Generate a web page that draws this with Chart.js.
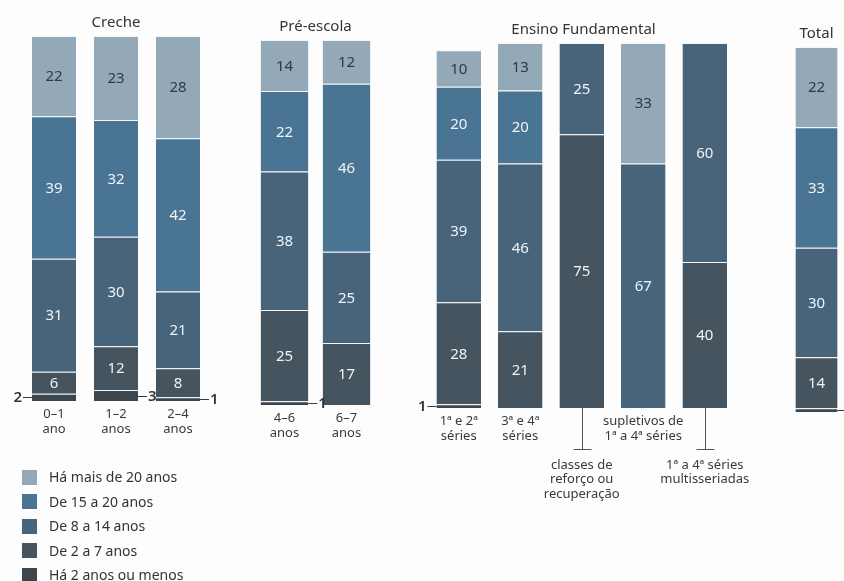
<!DOCTYPE html>
<html lang="pt-BR">
<head>
<meta charset="utf-8">
<title>Tempo de trabalho dos professores por etapa de ensino</title>
<script src="https://cdn.jsdelivr.net/npm/chart.js@4/dist/chart.umd.min.js"></script>
<style>
  html, body { margin: 0; padding: 0; }
  body {
    width: 844px; height: 581px; overflow: hidden; position: relative;
    background: #fdfdfd; font-family: "Noto Sans", sans-serif;
  }
  .panel { position: absolute; }
  .panel canvas { display: block; }
  #legend { position: absolute; left: 22px; top: 465px; z-index: 2; }
  #legend .item { display: flex; align-items: center; height: 24.5px; }
  #legend .box { width: 15px; height: 15px; margin-right: 12px; flex: none; }
  #legend .text { font-size: 14px; color: #333; line-height: 16px; white-space: nowrap; }
</style>
</head>
<body>
<div id="panels"></div>
<div id="legend"></div>
<script>
// ---- data -----------------------------------------------------------------
const panelTitles = ['Creche', 'Pré-escola', 'Ensino Fundamental', 'Total'];

const categories = [
  ['0–1', 'ano'], ['1–2', 'anos'], ['2–4', 'anos'],
  ['4–6', 'anos'], ['6–7', 'anos'],
  ['1ª e 2ª', 'séries'], ['3ª e 4ª', 'séries'],
  ['classes de', 'reforço ou', 'recuperação'],
  ['supletivos de', '1ª a 4ª séries'],
  ['1ª a 4ª séries', 'multisseriadas'],
  ['']
];
const categoryPanel = [0, 0, 0, 1, 1, 2, 2, 2, 2, 2, 3];

const seriesNames = ['Há mais de 20 anos', 'De 15 a 20 anos', 'De 8 a 14 anos', 'De 2 a 7 anos', 'Há 2 anos ou menos'];

// percentages per category (null = no segment)
const haMaisDe20Anos  = [22, 23, 28, 14, 12, 10, 13, null, 33, null, 22];
const de15a20Anos     = [39, 32, 42, 22, 46, 20, 20, null, null, null, 33];
const de8a14Anos      = [31, 30, 21, 38, 25, 39, 46, 25, 67, 60, 30];
const de2a7Anos       = [6, 12, 8, 25, 17, 28, 21, 75, null, 40, 14];
const ha2AnosOuMenos  = [2, 3, 1, 1, null, 1, null, null, null, null, 1];

// ---- styling / layout -----------------------------------------------------
const seriesColors = ['#93a9b7', '#4a7494', '#48647a', '#45545f', '#3c464c'];
const seriesTextColors = ['#2f3a42', '#eef3f6', '#eef3f6', '#eef3f6', '#eef3f6'];

const panelLayout = [
  { left: 0,   top: 0,  width: 232, padL: 23,   padR: 23,   barPct: 0.71 },
  { left: 240, top: 4,  width: 164, padL: 13.5, padR: 26.5, barPct: 0.77 },
  { left: 410, top: 7,  width: 347, padL: 18,   padR: 18,   barPct: 0.725 },
  { left: 760, top: 11, width: 113, padL: 25.5, padR: 25.5, barPct: 0.68 }
];
const PANEL_HEIGHT = 560;
const AXIS_HEIGHT = 159;

// categories whose label hangs below a bracket, and small values labelled to the left
const bracketed = new Set(['classes de reforço ou recuperação', '1ª a 4ª séries multisseriadas']);
const leaderLeft = new Set(['0–1 ano', '1ª e 2ª séries']);
const keyOf = (lbl) => (Array.isArray(lbl) ? lbl.join(' ') : String(lbl));

Chart.defaults.font.family = '"Noto Sans", sans-serif';
Chart.defaults.color = '#333';

// value labels inside segments, with short leader lines for tiny segments
const segmentLabels = {
  id: 'segmentLabels',
  afterDatasetsDraw(chart) {
    const ctx = chart.ctx;
    ctx.save();
    chart.data.datasets.forEach((ds, di) => {
      const meta = chart.getDatasetMeta(di);
      meta.data.forEach((bar, i) => {
        const v = ds.data[i];
        if (v == null) return;
        const p = bar.getProps(['x', 'y', 'base', 'width'], true);
        const midY = (p.y + p.base) / 2;
        if (v > 3) {
          ctx.font = '15px "Noto Sans"';
          ctx.fillStyle = ds.valueColor;
          ctx.textAlign = 'center';
          ctx.textBaseline = 'middle';
          ctx.fillText(String(v), p.x, midY + 1);
        } else {
          const left = leaderLeft.has(keyOf(chart.data.labels[i]));
          const edge = left ? p.x - p.width / 2 : p.x + p.width / 2;
          const end = left ? edge - 9 : edge + 9;
          const ly = Math.round(midY) + 0.5;
          ctx.strokeStyle = '#3a3a3a';
          ctx.lineWidth = 1;
          ctx.beginPath();
          ctx.moveTo(edge, ly);
          ctx.lineTo(end, ly);
          ctx.stroke();
          ctx.font = '600 15px "Noto Sans"';
          ctx.fillStyle = '#333';
          ctx.textAlign = left ? 'right' : 'left';
          ctx.textBaseline = 'middle';
          ctx.fillText(String(v), left ? end - 1 : end + 1, ly);
        }
      });
    });
    ctx.restore();
  }
};

// T-shaped connector from a bar down to its hanging label
const bracketLines = {
  id: 'bracketLines',
  afterDraw(chart) {
    const ctx = chart.ctx;
    const xs = chart.scales.x;
    const bottom = chart.chartArea.bottom;
    ctx.save();
    ctx.strokeStyle = '#555';
    ctx.lineWidth = 1;
    chart.data.labels.forEach((lbl, i) => {
      if (!bracketed.has(keyOf(lbl))) return;
      const x = Math.round(xs.getPixelForValue(i)) + 0.5;
      const yEnd = Math.round(bottom + 41) + 0.5;
      ctx.beginPath();
      ctx.moveTo(x, bottom);
      ctx.lineTo(x, yEnd);
      ctx.moveTo(x - 9, yEnd);
      ctx.lineTo(x + 9, yEnd);
      ctx.stroke();
    });
    ctx.restore();
  }
};

// ---- build panels ---------------------------------------------------------
const seriesValues = [haMaisDe20Anos, de15a20Anos, de8a14Anos, de2a7Anos, ha2AnosOuMenos];
const panelsEl = document.getElementById('panels');

panelTitles.forEach((title, pi) => {
  const lay = panelLayout[pi];
  const idx = categoryPanel.map((p, i) => (p === pi ? i : -1)).filter(i => i >= 0);

  const wrap = document.createElement('div');
  wrap.className = 'panel';
  wrap.style.left = lay.left + 'px';
  wrap.style.top = lay.top + 'px';
  const canvas = document.createElement('canvas');
  canvas.width = lay.width;
  canvas.height = PANEL_HEIGHT;
  wrap.appendChild(canvas);
  panelsEl.appendChild(wrap);

  // stacking order: bottom segment first
  const datasets = [4, 3, 2, 1, 0].map(si => ({
    label: seriesNames[si],
    data: idx.map(i => seriesValues[si][i]),
    backgroundColor: seriesColors[si],
    borderColor: 'rgba(225,233,238,0.38)',
    borderWidth: { top: 1, right: 0, bottom: 0, left: 0 },
    borderSkipped: false,
    barPercentage: lay.barPct,
    categoryPercentage: 1,
    valueColor: seriesTextColors[si]
  }));

  new Chart(canvas, {
    type: 'bar',
    data: { labels: idx.map(i => categories[i]), datasets },
    options: {
      responsive: false,
      animation: false,
      events: [],
      layout: { padding: { left: lay.padL, right: lay.padR, top: 0, bottom: 0 } },
      plugins: {
        legend: { display: false },
        tooltip: { enabled: false },
        title: {
          display: true,
          text: title,
          color: '#333',
          font: { size: 15, weight: 'normal', lineHeight: 1.2 },
          padding: { top: 14, bottom: 4 }
        }
      },
      scales: {
        x: {
          stacked: true,
          grid: { display: false, drawTicks: false },
          border: { display: false },
          afterFit(scale) { scale.height = AXIS_HEIGHT; },
          ticks: {
            autoSkip: false,
            maxRotation: 0,
            minRotation: 0,
            padding: 6,
            color: '#3a3a3a',
            font: { size: 13, lineHeight: 1.12 },
            callback(value) {
              const lbl = this.getLabelForValue(value);
              return bracketed.has(keyOf(lbl)) ? ['', '', ''].concat(lbl) : lbl;
            }
          }
        },
        y: { stacked: true, display: false, min: 0, max: 100 }
      }
    },
    plugins: [segmentLabels, bracketLines]
  });
});

// ---- legend ---------------------------------------------------------------
const legendEl = document.getElementById('legend');
seriesNames.forEach((name, si) => {
  const row = document.createElement('div');
  row.className = 'item';
  const box = document.createElement('span');
  box.className = 'box';
  box.style.background = seriesColors[si];
  const txt = document.createElement('span');
  txt.className = 'text';
  txt.textContent = name;
  row.appendChild(box);
  row.appendChild(txt);
  legendEl.appendChild(row);
});
</script>
</body>
</html>
